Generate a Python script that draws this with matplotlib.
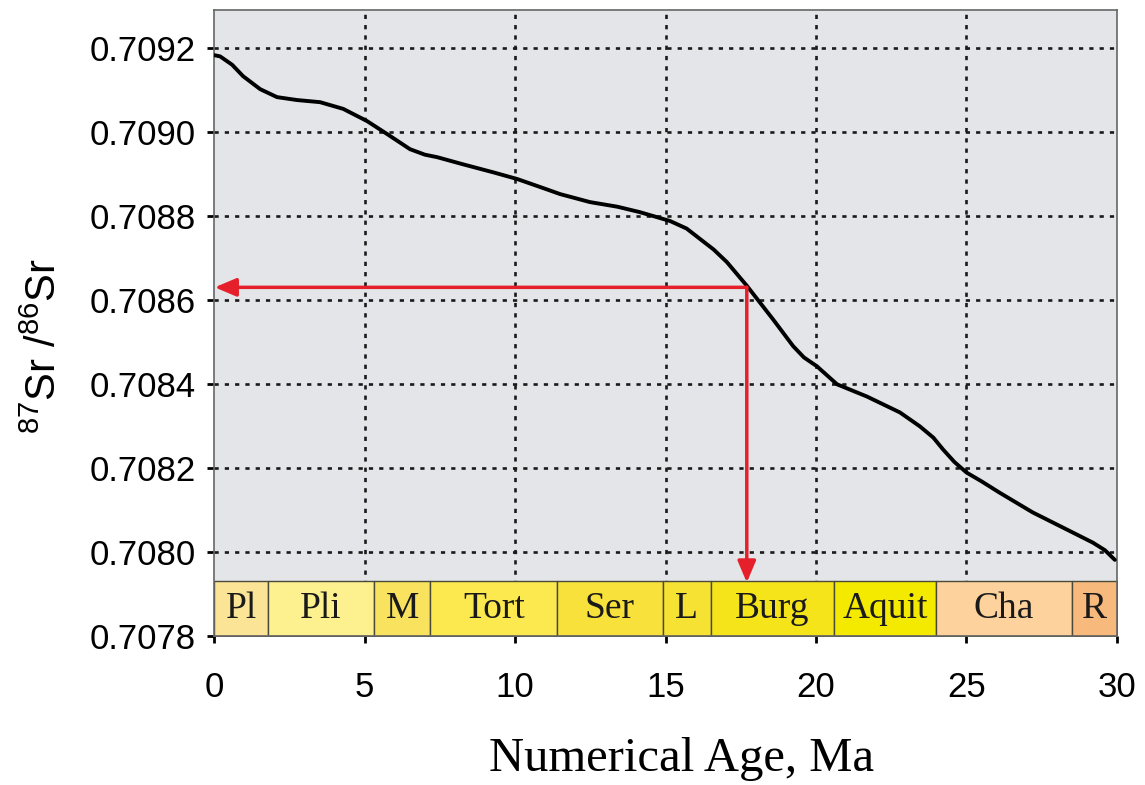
import numpy as np
import matplotlib
matplotlib.use("Agg")
from matplotlib import pyplot as plt

plt.rcParams['mathtext.fontset'] = 'custom'
plt.rcParams['mathtext.rm'] = 'Liberation Sans'

## Sr isotope curve
age = [0.0, 0.2, 0.6, 0.96, 1.53, 2.09, 2.76, 3.52, 4.29, 5.08, 5.75, 6.51, 7.0,
       7.41, 8.27, 9.27, 10.07, 10.83, 11.5, 12.49, 13.4, 14.15, 15.15, 15.7,
       16.15, 16.6, 17.04, 17.71, 18.57, 19.24, 19.6, 20.03, 20.7, 21.69, 22.79,
       23.45, 23.9, 24.22, 24.6, 25.0, 25.5, 26.1, 27.2, 28.34, 29.2, 29.6, 29.93]
sr_ratio = [0.709183, 0.709180, 0.709160, 0.709133, 0.709102, 0.709083, 0.709076,
            0.709071, 0.709055, 0.709026, 0.708995, 0.708959, 0.708946, 0.708940,
            0.708923, 0.708904, 0.708888, 0.708869, 0.708852, 0.708833, 0.708822,
            0.708809, 0.708788, 0.708770, 0.708745, 0.708720, 0.708690, 0.708633,
            0.708554, 0.708490, 0.708463, 0.708442, 0.708399, 0.708370, 0.708332,
            0.708299, 0.708272, 0.708244, 0.708214, 0.708189, 0.708168, 0.708141,
            0.708094, 0.708053, 0.708022, 0.708004, 0.707981]

## stages along the bottom
stage_names = ['Pl', 'Pli', 'M', 'Tort', 'Ser', 'L', 'Burg', 'Aquit', 'Cha', 'R']
stage_start = [0.0, 1.79, 5.32, 7.18, 11.4, 14.9, 16.5, 20.6, 24.0, 28.5]
stage_end = [1.79, 5.32, 7.18, 11.4, 14.9, 16.5, 20.6, 24.0, 28.5, 30.0]
stage_colors = ['#fbe496', '#fdf08e', '#f9e35e', '#fbe94f', '#f8e13a',
                '#f6e233', '#f6e41b', '#f4ea00', '#fdd29c', '#f8b97c']

## sample read-off
sample_age = 17.7
sample_ratio = 0.70863

y_ticks = [0.7078, 0.7080, 0.7082, 0.7084, 0.7086, 0.7088, 0.7090, 0.7092]
x_ticks = [0, 5, 10, 15, 20, 25, 30]

y_min, y_max = 0.7078, 0.70929
bar_top = 0.70793

fig = plt.figure(figsize=(11.45, 7.85), dpi=100)
ax = fig.add_axes([0.187, 0.19, 0.7885, 0.797])
ax.set_facecolor('#e3e5e8')

# grid
grid_style = dict(color='#1a1a1a', lw=1.9, linestyle=(0, (1.6, 2.3)), zorder=1)
for x in x_ticks[1:-1]:
    ax.plot([x, x], [y_min, y_max], **grid_style)
for y in y_ticks[1:]:
    ax.plot([0, 30], [y, y], **grid_style)

# stage bar
for name, s, e, c in zip(stage_names, stage_start, stage_end, stage_colors):
    ax.fill_between([s, e], y_min, bar_top, facecolor=c, edgecolor='#4a4a3a',
                    lw=1.0, zorder=2)
    ax.text((s + e) / 2, (y_min + bar_top) / 2, name, ha='center', va='center',
            fontsize=27, family='Liberation Serif', color='#1a1a1a', zorder=3)

# curve
ax.plot(age, sr_ratio, color='black', lw=2.8, zorder=4,
        solid_capstyle='round', solid_joinstyle='round')

# red arrows
red = '#e5202a'
arrow = dict(arrowstyle='-|>,head_length=1.3,head_width=0.55',
             color=red, lw=2.5, shrinkA=0, shrinkB=0)
ax.annotate('', xy=(0.02, sample_ratio), xytext=(sample_age, sample_ratio),
            arrowprops=arrow, zorder=5)
ax.annotate('', xy=(sample_age, bar_top - 0.000003), xytext=(sample_age, sample_ratio),
            arrowprops=arrow, zorder=5)

ax.set_xlim(0, 30)
ax.set_ylim(y_min, y_max)
ax.set_xticks(x_ticks)
ax.set_yticks(y_ticks)
ax.set_yticklabels(['%.4f' % v for v in y_ticks])
ax.tick_params(axis='both', direction='out', length=5, width=2, color='black',
               labelsize=25)
ax.tick_params(axis='y', pad=8)
ax.tick_params(axis='x', pad=20)
for lab in ax.get_xticklabels() + ax.get_yticklabels():
    lab.set_family('Liberation Sans')

for sp in ax.spines.values():
    sp.set_color('#666666')
    sp.set_linewidth(1.2)

ax.set_xlabel('Numerical Age, Ma', fontsize=35, family='Liberation Serif')
ax.xaxis.set_label_coords(0.518, -0.162)
ax.set_ylabel(r'$^{87}$Sr /$^{86}$Sr', fontsize=30, family='Liberation Sans')
ax.yaxis.set_label_coords(-0.165, 0.463)

fig.savefig('out.png', dpi=100)
